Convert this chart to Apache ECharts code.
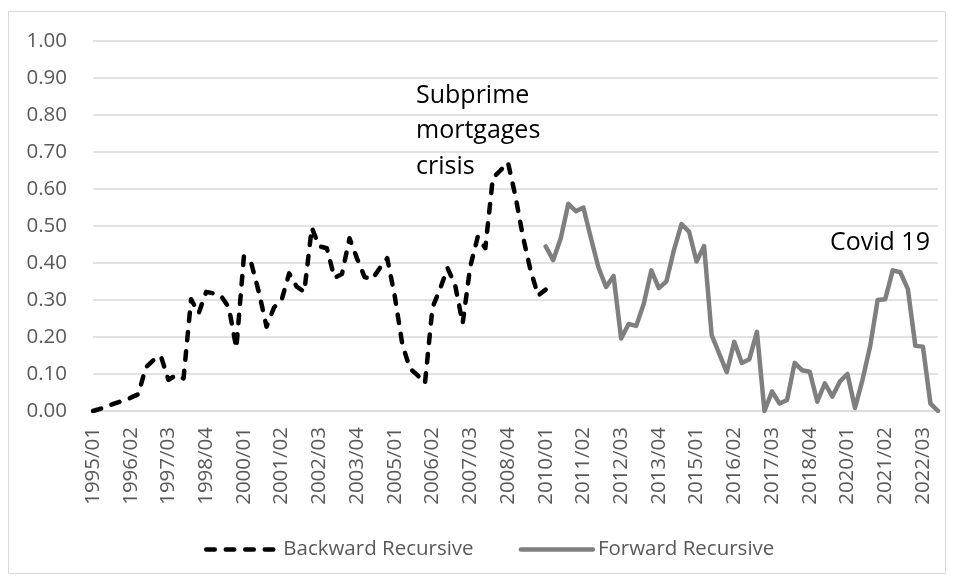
<!DOCTYPE html>
<html>
<head>
<meta charset="utf-8">
<script src="https://cdn.jsdelivr.net/npm/echarts/dist/echarts.min.js"></script>
<style>
  html, body { margin: 0; padding: 0; background: #fff; }
  #echart { width: 954px; height: 582px; }
</style>
</head>
<body>
<div id="echart"></div>
<script>
// quarters 1995/01 .. 2023/01
var firstYear = 1995;
var lastYear = 2023;
var lastQuarter = 1;
var categories = [];
for (var y = firstYear; y <= lastYear; y++) {
  for (var q = 1; q <= 4; q++) {
    if (y === lastYear && q > lastQuarter) break;
    categories.push(y + '/0' + q);
  }
}

var yTickLabels = ['0.00', '0.10', '0.20', '0.30', '0.40', '0.50', '0.60', '0.70', '0.80', '0.90', '1.00'];

// Backward Recursive, from 1995/01
var backwardStart = '1995/01';
var backwardValues = [
  0.000, 0.006, 0.014, 0.021, 0.028, 0.036, 0.045, 0.118, 0.137, 0.148,
  0.084, 0.097, 0.088, 0.302, 0.264, 0.322, 0.318, 0.310, 0.280, 0.170,
  0.418, 0.398, 0.320, 0.228, 0.280, 0.300, 0.372, 0.336, 0.322, 0.495,
  0.445, 0.440, 0.360, 0.370, 0.467, 0.412, 0.362, 0.356, 0.386, 0.413,
  0.310, 0.180, 0.115, 0.097, 0.075, 0.280, 0.330, 0.386, 0.340, 0.237,
  0.390, 0.471, 0.440, 0.630, 0.650, 0.672, 0.580, 0.470, 0.380, 0.312,
  0.328
];

// Forward Recursive, from 2010/01
var forwardStart = '2010/01';
var forwardValues = [
  0.445, 0.408, 0.467, 0.560, 0.540, 0.550, 0.467, 0.388, 0.335, 0.365,
  0.196, 0.235, 0.230, 0.290, 0.380, 0.332, 0.350, 0.435, 0.505, 0.485,
  0.404, 0.446, 0.205, 0.155, 0.105, 0.187, 0.130, 0.140, 0.214, 0.000,
  0.053, 0.020, 0.030, 0.130, 0.110, 0.106, 0.025, 0.075, 0.039, 0.080,
  0.100, 0.008, 0.085, 0.174, 0.300, 0.302, 0.380, 0.375, 0.330, 0.176,
  0.174, 0.020, 0.000
];

function placeOnAxis(values, start) {
  var idx = categories.indexOf(start);
  var out = [];
  for (var i = 0; i < categories.length; i++) {
    var k = i - idx;
    out.push(k >= 0 && k < values.length ? values[k] : null);
  }
  return out;
}

var chartDom = document.getElementById('echart');
var myChart = echarts.init(chartDom);
var option;

var font = 'Open Sans';
var labelColor = '#595959';
var gridColor = '#d9d9d9';

option = {
  animation: false,
  textStyle: { fontFamily: font },
  grid: { left: 93, right: 16, top: 41, bottom: 171 },
  legend: {
    left: 204,
    top: 539,
    padding: 0,
    itemWidth: 72,
    itemHeight: 14,
    itemGap: 45,
    itemStyle: { opacity: 0 },
    lineStyle: { width: 4.5 },
    textStyle: { color: labelColor, fontSize: 20.5, fontFamily: font },
    data: ['Backward Recursive', 'Forward Recursive']
  },
  xAxis: {
    type: 'category',
    data: categories,
    boundaryGap: false,
    axisLine: { show: true, lineStyle: { color: gridColor, width: 1.5 } },
    axisTick: { show: false },
    splitLine: { show: false },
    axisLabel: {
      interval: 4,
      rotate: 90,
      margin: 16,
      color: labelColor,
      fontSize: 20.5,
      fontFamily: font
    }
  },
  yAxis: {
    type: 'value',
    min: 0,
    max: 1,
    interval: 0.1,
    axisLine: { show: false },
    axisTick: { show: false },
    splitLine: { lineStyle: { color: gridColor, width: 1.5 } },
    axisLabel: {
      margin: 26,
      color: labelColor,
      fontSize: 20.5,
      fontFamily: font,
      formatter: function (v) { return yTickLabels[Math.round(v * 10)]; }
    }
  },
  series: [
    {
      name: 'Backward Recursive',
      type: 'line',
      symbol: 'none',
      data: placeOnAxis(backwardValues, backwardStart),
      lineStyle: { color: '#000000', width: 4.5, type: [8.5, 11], cap: 'round', join: 'round' },
      itemStyle: { color: '#000000' }
    },
    {
      name: 'Forward Recursive',
      type: 'line',
      symbol: 'none',
      data: placeOnAxis(forwardValues, forwardStart),
      lineStyle: { color: '#7f7f7f', width: 4.5, cap: 'round', join: 'round' },
      itemStyle: { color: '#7f7f7f' }
    }
  ],
  graphic: [
    {
      type: 'rect',
      shape: { x: 8.5, y: 11.5, width: 937, height: 562 },
      style: { fill: 'none', stroke: gridColor, lineWidth: 1 },
      silent: true
    },
    {
      type: 'text',
      left: 416,
      top: 78,
      style: {
        text: 'Subprime\nmortgages\ncrisis',
        font: '25px "Open Sans"',
        fill: '#000000',
        lineHeight: 35.5
      }
    },
    {
      type: 'text',
      left: 830,
      top: 225,
      style: {
        text: 'Covid 19',
        font: '25px "Open Sans"',
        fill: '#000000',
        lineHeight: 35.5
      }
    }
  ]
};

option && myChart.setOption(option);
</script>
</body>
</html>
